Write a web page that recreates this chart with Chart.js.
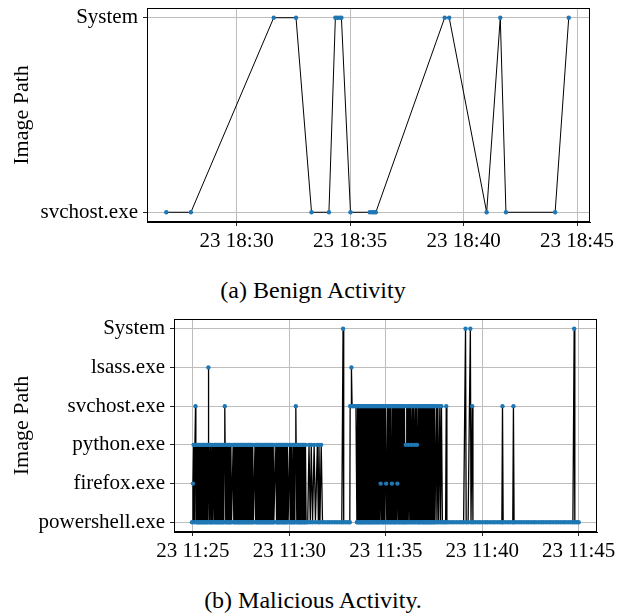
<!DOCTYPE html>
<html><head><meta charset="utf-8">
<script src="https://cdn.jsdelivr.net/npm/chart.js@4.4.0/dist/chart.umd.min.js"></script>
<style>
html,body{margin:0;padding:0;background:#fff;width:626px;height:616px;overflow:hidden;}
.wrap{position:absolute;left:0;width:626px;}
canvas{display:block;}
.cap{position:absolute;left:0;width:626px;text-align:center;font-family:"Liberation Serif",serif;font-size:24px;line-height:24px;color:#000;white-space:nowrap;}
</style></head>
<body>
<div class="wrap" style="top:0;height:262px"><canvas id="c1" width="626" height="262"></canvas></div>
<div class="cap" style="top:278px">(a) Benign Activity</div>
<div class="wrap" style="top:300px;height:270px"><canvas id="c2" width="626" height="270"></canvas></div>
<div class="cap" style="top:588px">(b) Malicious Activity.</div>
<script>
// ---------- (a) Benign activity ----------
const benignPaths = ["svchost.exe", "System"];
const benignTimes = ["18:26:54","18:27:59","18:31:38","18:32:37","18:33:18","18:34:04",
  "18:34:21","18:34:26","18:34:32","18:34:37","18:35:01","18:35:52","18:35:58","18:36:03",
  "18:36:08","18:39:10","18:39:22","18:41:01","18:41:37","18:41:52","18:44:02","18:44:38"];
const benignValues = ["svchost.exe","svchost.exe","System","System","svchost.exe","svchost.exe",
  "System","System","System","System","svchost.exe","svchost.exe","svchost.exe","svchost.exe",
  "svchost.exe","System","System","svchost.exe","System","svchost.exe","svchost.exe","System"];
const benignTickMinutes = [30, 35, 40, 45];           // minutes after 18:00
const benignTickLabels = ["23 18:30","23 18:35","23 18:40","23 18:45"];

// ---------- (b) Malicious activity ----------
const maliciousPaths = ["powershell.exe","firefox.exe","python.exe","svchost.exe","lsass.exe","System"];
// events: [seconds after 11:25:00, index into maliciousPaths]
const malPhase1 = [
 [-3,0],[0,1],[2,2],[4,0],[6,2],[8,3],[9,2],[11,0],[13,2],[14,0],[16,2],[18,0],[20,2],[21,0],
 [23,2],[25,0],[27,2],[29,0],[30,2],[32,0],[34,2],[36,0],[37,2],[39,0],[41,2],[43,0],[44,2],
 [46,0],[47,2],[48,4],[49,2],[51,0],[53,2],[55,0],[56,2],[58,0],[60,2],[62,0],[66,2],[67,0],
 [69,2],[71,0],[72,2],[74,0],[76,2],[78,0],[80,2],[81,0],[83,2],[85,0],[87,2],[89,0],[90,2],
 [92,0],[94,2],[96,0],[97,2],[99,3],[100,2],[102,0],[104,2],[105,0],[107,2],[109,0],[111,2],
 [113,0],[114,2],[116,0],[118,2],[120,0],[125,2],[127,0],[129,2],[130,0],[132,2],[134,0],
 [136,2],[138,0],[139,2],[141,0],[143,2],[145,0],[147,2],[148,0],[150,2],[152,0],[154,2],
 [155,0],[157,2],[159,0],[161,2],[163,0],[164,2],[166,0],[168,2],[170,0],[172,2],[173,0],
 [175,2],[177,0],[179,2],[181,0],[182,2],[184,0],[186,2],[188,0],[193,2],[195,0],[197,2],
 [199,0],[200,2],[202,0],[204,2],[206,0],[207,2],[209,0],[211,2],[213,0],[215,2],[216,0],
 [218,2],[220,0],[222,2],[224,0],[225,2],[227,0],[229,2],[231,0],[233,2],[234,0],[236,2],
 [238,0],[240,2],[242,0],[243,2],[245,0],[247,2],[249,0],[251,2],[252,0],[258,2],[260,0],
 [261,2],[263,0],[265,2],[267,0],[269,2],[270,0],[272,2],[274,0],[276,2],[278,0],[279,2],
 [281,0],[283,2],[285,0],[287,2],[288,0],[290,2],[292,0],[294,2],[296,0],[301,2],[303,0],
 [305,2],[306,0],[308,2],[310,0],[312,2],[314,0],[315,2],[317,0],[318,2],[320,3],[321,2],
 [323,0],[325,2],[327,0],[328,2],[330,0],[332,2],[334,0],[336,2],[337,0],[339,2],[341,0],
 [343,2],[345,0],[346,2],[348,0],[350,2],[352,0]];
const malPhase2 = [
 [357,0],[361,2],[365,0],[368,2],[372,0],[377,2],[381,0],[387,2],[390,0],[392,2],
 [395,0],[399,2],[403,0],[410,0],[418,0],[425,0],[433,0],[441,0],[448,0],[456,0],
 [463,0],[467,5],[469,0],[476,0],[483,0],[488,0],[489,3],[492,3],[493,4],[495,3],
 [499,3],[503,3],[507,3]];
const malPhase3 = [
 [510,0],[512,3],[514,0],[515,3],[517,0],[519,3],[521,0],[522,3],[524,0],[526,3],[528,0],
 [530,3],[531,0],[533,3],[535,0],[537,3],[538,0],[540,3],[542,0],[544,3],[546,0],[547,3],
 [549,0],[551,3],[553,0],[555,3],[556,0],[558,3],[560,0],[562,3],[563,0],[565,3],[567,0],
 [569,3],[571,0],[572,3],[574,0],[576,3],[578,0],[580,3],[581,0],[583,3],[584,1],[586,0],
 [588,3],[590,0],[591,3],[593,0],[595,3],[597,0],[599,3],[601,1],[603,0],[605,3],[606,0],
 [608,3],[610,0],[612,3],[614,0],[615,3],[617,0],[619,1],[620,3],[622,0],[624,3],[626,0],
 [628,3],[629,0],[631,3],[633,0],[635,3],[636,1],[638,0],[640,3],[642,0],[644,3],[645,0],
 [647,3],[649,0],[651,3],[653,0],[654,3],[656,0],[658,3],[660,0],[662,2],[663,0],[665,3],
 [667,0],[669,3],[671,2],[672,0],[674,3],[676,0],[678,3],[680,2],[681,0],[683,3],[685,0],
 [687,3],[689,2],[690,0],[692,3],[694,0],[696,3],[697,2],[699,0],[701,3],[703,0],[705,3],
 [706,0],[708,3],[710,0],[712,3],[714,0],[715,3],[717,0],[719,3],[721,0],[723,3],[724,0],
 [726,3],[728,0],[730,3],[732,0],[733,3],[735,0],[737,3],[739,0],[741,3],[742,0],[744,3],
 [746,0],[748,3],[750,0],[751,3],[753,0],[757,3],[759,0],[762,3],[764,0],[768,3],[770,0],
 [773,3],[776,0]];
const malPhase4 = [
 [781,0],[786,0],[788,3],[790,0],[797,0],[805,0],[812,0],[820,0],[828,0],[835,0],
 [842,0],[848,5],[850,0],[856,0],[863,5],[865,0],[869,3],[871,0],[878,0],[886,0],
 [893,0],[901,0],[909,0],[916,0],[924,0],[932,0],[939,0],[947,0],[955,0],[961,0],
 [963,3],[965,0],[972,0],[980,0],[987,0],[995,0],[997,3],[999,0],[1006,0],[1014,0],
 [1021,0],[1029,0],[1037,0],[1044,0],[1052,0],[1060,0],[1067,0],[1075,0],[1083,0],[1090,0],
 [1098,0],[1106,0],[1113,0],[1121,0],[1129,0],[1136,0],[1144,0],[1152,0],[1159,0],[1167,0],
 [1175,0],[1182,0],[1186,5],[1188,0],[1194,0],[1200,0]];
const malTickSeconds = [0, 300, 600, 900, 1200];
const malTickLabels = ["23 11:25","23 11:30","23 11:35","23 11:40","23 11:45"];

// ---------- drawing ----------
const FONT = {family: "'Liberation Serif', serif", size: 21};
const TITLE_FONT = {family: "'Liberation Serif', serif", size: 22};
const framePlugin = {id:'frame', afterDatasetsDraw(chart){
  const {ctx, chartArea:a} = chart; ctx.save(); ctx.strokeStyle='#000'; ctx.lineWidth=1;
  ctx.strokeRect(Math.round(a.left)+0.5, Math.round(a.top)+0.5, Math.round(a.right-a.left)-1, Math.round(a.bottom-a.top)-1);
  ctx.restore(); }};

function makeChart(id, canvasH, plot, xc, yc, points, lw){
  return new Chart(document.getElementById(id), {
    type:'line',
    data:{datasets:[{data:points, borderColor:'#000', borderWidth:lw, tension:0, fill:false,
      pointRadius:2.2, pointHoverRadius:2.2, pointBackgroundColor:'#1f77b4', pointBorderWidth:0}]},
    options:{
      responsive:false, animation:false, parsing:false, events:[],
      layout:{padding:{left:0, top:plot.top, right:626-plot.right, bottom:0}},
      plugins:{legend:{display:false}, tooltip:{enabled:false}},
      scales:{
        x:{type:'linear', min:xc.min, max:xc.max,
          afterFit:s=>{s.height = canvasH - plot.bottom;},
          afterBuildTicks:s=>{s.ticks = xc.ticks.map(v=>({value:v}));},
          ticks:{callback:v=>xc.labels[xc.ticks.indexOf(v)], font:FONT, color:'#000', padding:3, maxRotation:0, autoSkip:false},
          grid:{color:'#bdbdbd', lineWidth:1, tickColor:'#222', tickLength:4},
          border:{color:'#000', width:1}},
        y:{type:'linear', min:yc.min, max:yc.max,
          afterFit:s=>{s.width = plot.left; s.paddingTop = 0; s.paddingBottom = 0;},
          afterBuildTicks:s=>{s.ticks = yc.labels.map((l,i)=>({value:i}));},
          ticks:{callback:v=>yc.labels[v], font:FONT, color:'#000', padding:5, autoSkip:false},
          grid:{color:'#bdbdbd', lineWidth:1, tickColor:'#222', tickLength:4},
          border:{color:'#000', width:1},
          title:{display:true, text:'Image Path', font:TITLE_FONT, color:'#000', padding:{top:9, bottom:0}}}
      }
    },
    plugins:[framePlugin]
  });
}

function toMinutes(s){ const [h,m,sec] = s.split(':').map(Number); return m + sec/60; }
const benignPoints = benignTimes.map((t,i)=>({x:toMinutes(t), y:benignPaths.indexOf(benignValues[i])}));
makeChart('c1', 262, {left:147, right:590, top:8, bottom:222},
  {min:26.05, max:45.57, ticks:benignTickMinutes, labels:benignTickLabels},
  {min:-0.05, max:1.05, labels:benignPaths}, benignPoints, 1);

const malEvents = malPhase1.concat(malPhase2, malPhase3, malPhase4);
const malPoints = malEvents.map(e=>({x:e[0], y:e[1]}));
makeChart('c2', 270, {left:174, right:597, top:19, bottom:232},
  {min:-59, max:1257, ticks:malTickSeconds, labels:malTickLabels},
  {min:-0.25, max:5.25, labels:maliciousPaths}, malPoints, 1.3);
</script>
</body></html>
